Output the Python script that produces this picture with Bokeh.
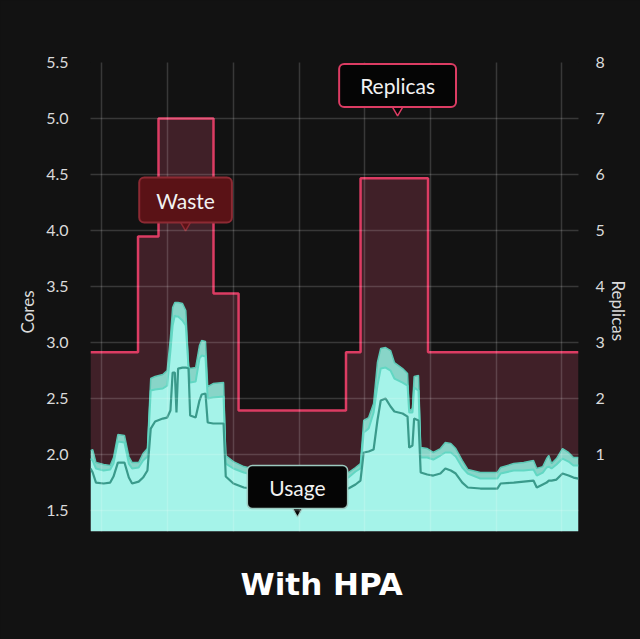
import math
from bokeh.plotting import figure
from bokeh.models import (Range1d, LinearAxis, FixedTicker, Label, Title,
                          PrintfTickFormatter, GlobalInlineStyleSheet)
from bokeh.embed import file_html
from bokeh.resources import INLINE

# ---------------- data (time in minutes) ----------------
usage_t = [0, 2, 5, 12, 18, 21, 25, 31, 35, 38, 44, 48, 52, 55, 59, 66, 70, 73, 75, 77,
           78.5, 80, 84, 87, 89.5, 91, 96, 99.5, 101.5, 105, 107, 112, 121.5, 123.5,
           130.5, 140, 155, 173, 192, 210, 228, 235.5, 242, 246.5, 249.5, 254, 258.5,
           262, 265, 269.5, 274, 277.5, 285, 289.5, 291, 294, 295.5, 299.5, 301.5,
           307.5, 313, 319.5, 324, 329, 333.5, 339.5, 344.5, 356, 371.5, 374.5, 386.5,
           395.5, 404.5, 407.5, 413, 416.5, 418.5, 421, 425.5, 431, 436.5, 441, 445.6]
usage_max = [2.032, 2.041, 1.925, 1.907, 1.898, 1.970, 2.175, 2.167, 1.979, 1.925, 1.925,
             2.006, 2.050, 2.676, 2.694, 2.712, 2.747, 3.042, 3.310, 3.355, 3.355, 3.355,
             3.346, 3.284, 2.783, 2.765, 2.774, 2.971, 3.016, 3.007, 2.604, 2.631, 2.640,
             1.988, 1.934, 1.889, 1.854, 1.836, 1.827, 1.827, 1.836, 1.836, 1.881, 1.916,
             2.301, 2.327, 2.452, 2.819, 2.944, 2.953, 2.926, 2.819, 2.765, 2.721, 2.390,
             2.408, 2.694, 2.703, 2.059, 2.050, 2.015, 2.050, 2.104, 2.095, 2.050, 1.943,
             1.863, 1.836, 1.836, 1.881, 1.916, 1.925, 1.943, 1.872, 1.889, 1.961, 1.988,
             1.916, 1.961, 2.050, 2.015, 1.970, 1.970]
usage_p90 = [1.961, 1.943, 1.872, 1.854, 1.863, 1.916, 2.113, 2.104, 1.916, 1.872, 1.881,
             1.943, 1.979, 2.569, 2.578, 2.587, 2.613, 2.926, 3.150, 3.239, 3.230, 3.230,
             3.194, 3.150, 2.774, 2.640, 2.649, 2.855, 2.881, 2.873, 2.497, 2.506, 2.515,
             1.916, 1.872, 1.836, 1.800, 1.782, 1.773, 1.773, 1.782, 1.791, 1.845, 1.872,
             2.193, 2.229, 2.372, 2.613, 2.765, 2.774, 2.747, 2.676, 2.640, 2.613, 2.372,
             2.372, 2.595, 2.569, 1.970, 1.970, 1.952, 1.988, 2.015, 2.015, 1.979, 1.881,
             1.827, 1.782, 1.782, 1.827, 1.854, 1.854, 1.863, 1.809, 1.836, 1.881, 1.889,
             1.872, 1.907, 1.961, 1.934, 1.898, 1.898]
usage_p50 = [1.872, 1.836, 1.746, 1.738, 1.746, 1.800, 1.925, 1.925, 1.791, 1.738, 1.755,
             1.791, 1.854, 2.229, 2.292, 2.318, 2.327, 2.390, 2.730, 2.730, 2.372, 2.765,
             2.774, 2.774, 2.765, 2.345, 2.327, 2.479, 2.533, 2.542, 2.283, 2.274, 2.274,
             1.800, 1.738, 1.702, 1.684, 1.675, 1.675, 1.666, 1.684, 1.693, 1.729, 1.764,
             2.015, 2.024, 2.041, 2.301, 2.479, 2.497, 2.426, 2.381, 2.363, 2.336, 2.059,
             2.077, 2.318, 2.301, 1.836, 1.818, 1.809, 1.827, 1.872, 1.854, 1.827, 1.746,
             1.702, 1.693, 1.693, 1.738, 1.746, 1.755, 1.764, 1.702, 1.729, 1.746, 1.764,
             1.764, 1.773, 1.827, 1.809, 1.791, 1.782]

replica_t = [0, 43.4, 62.1, 112.3, 135.2, 233.3, 246.6, 308.2, 445.6]
replica_n = [2.82, 4.89, 7.0, 3.87, 1.78, 2.82, 5.93, 2.82, 2.82]

core_ticks = [1.5, 2.0, 2.5, 3.0, 3.5, 4.0, 4.5, 5.0, 5.5]
replica_ticks = [1, 2, 3, 4, 5, 6, 7, 8]
time_grid = [10.5 + 60 * k for k in range(8)]

title_text = "With HPA"
left_label = "Cores"
right_label = "Replicas"

# ---------------- styling ----------------
BG = "#121212"
MAROON = "#402028"
CRIMSON = "#dc3c63"
CYAN = "#a5f3e9"
BAND = "#88d5c8"
TOP_LINE = "#5cc8b5"
MID_LINE = "#62d7c3"
LOW_LINE = "#3a9a8b"
TICK_COLOR = "#dadada"

x0, x1 = 0, 445.6
y0, y1 = 1.309, 5.5
r0, r1 = -0.382, 8

p = figure(width=640, height=639, output_backend="svg", toolbar_location=None,
           x_range=Range1d(x0, x1), y_range=Range1d(y0, y1),
           background_fill_color=BG, border_fill_color=BG,
           min_border_left=90, min_border_right=62, min_border_top=62,
           min_border_bottom=108)
p.outline_line_color = None
p.extra_y_ranges = {"replicas": Range1d(r0, r1)}
p.stylesheets = [GlobalInlineStyleSheet(css="html, body { background-color: #121212; }")]

# waste area (under replicas step)
p.varea_step(x=replica_t, y1=r0, y2=replica_n, step_mode="after",
             y_range_name="replicas", fill_color=MAROON)

# usage areas
p.varea(x=usage_t, y1=y0, y2=usage_p90, fill_color=CYAN)
p.varea(x=usage_t, y1=usage_p90, y2=usage_max, fill_color=BAND)
p.line(usage_t, usage_max, line_color=TOP_LINE, line_width=1.5)
p.line(usage_t, usage_p90, line_color=MID_LINE, line_width=2)
p.line(usage_t, usage_p50, line_color=LOW_LINE, line_width=2.2)

# replicas line
p.step(replica_t, replica_n, mode="after", y_range_name="replicas",
       line_color=CRIMSON, line_width=2.5)

# axes
p.xaxis.visible = False
lax = p.left[0]
lax.ticker = FixedTicker(ticks=core_ticks)
lax.formatter = PrintfTickFormatter(format="%.1f")
rax = LinearAxis(y_range_name="replicas", ticker=FixedTicker(ticks=replica_ticks))
p.add_layout(rax, "right")
for ax in (lax, rax):
    ax.axis_line_color = None
    ax.major_tick_line_color = None
    ax.minor_tick_line_color = None
    ax.major_tick_out = 0
    ax.major_tick_in = 0
    ax.major_label_text_font = "Lato"
    ax.major_label_text_font_size = "16px"
    ax.major_label_text_color = TICK_COLOR
lax.major_label_standoff = 22
rax.major_label_standoff = 17

# grid
p.xgrid.ticker = FixedTicker(ticks=time_grid)
p.ygrid.ticker = FixedTicker(ticks=core_ticks)
for g in (p.xgrid, p.ygrid):
    g.grid_line_color = "white"
    g.grid_line_alpha = 0.16
    g.grid_line_width = 1.5
    g.level = "guide"

# axis titles (as side titles so they sit outside the frame)
p.add_layout(Title(text=left_label, align="left", offset=198, vertical_align="bottom",
                   standoff=12, text_font="Lato", text_font_size="17px",
                   text_font_style="normal", text_color=TICK_COLOR), "left")
p.add_layout(Title(text=right_label, align="left", offset=218, vertical_align="bottom",
                   standoff=0, text_font="Lato", text_font_size="17px",
                   text_font_style="normal", text_color=TICK_COLOR), "right")

# callout pointers
p.scatter(x=[280.4], y=[5.084], marker="inverted_triangle", size=12,
          fill_color="#050505", line_color=CRIMSON, line_width=1.5)
p.scatter(x=[86.8], y=[4.057], marker="inverted_triangle", size=12,
          fill_color="#5a1216", line_color="#8c2a33", line_width=1.5)
p.scatter(x=[189.0], y=[1.501], marker="inverted_triangle", size=12,
          fill_color="#050505", line_color="#9cc9c0", line_width=1.2)

# callout boxes
def callout(x, y, text, fill, border, px, py, bw):
    return Label(x=x, y=y, text=text, text_align="center", text_baseline="middle",
                 text_font="Lato", text_font_size="21px", text_color="#f2f2f2",
                 background_fill_color=fill, border_line_color=border,
                 border_line_width=bw,
                 padding=dict(left=px, right=px, top=py, bottom=py), border_radius=5)

p.add_layout(callout(280.4, 5.294, "Replicas", "#050505", CRIMSON, 21, 9, 2))
p.add_layout(callout(86.8, 4.271, "Waste", "#5a1216", "#8c2a33", 17, 10, 2))
p.add_layout(callout(189.0, 1.706, "Usage", "#050505", "#9cc9c0", 22, 9, 1.5))

# bottom title
p.add_layout(Title(text=title_text, align="left", offset=150, vertical_align="top",
                   standoff=68, text_font="DejaVu Sans", text_font_style="bold",
                   text_font_size="31px", text_color="white"), "below")

open("out.html", "w").write(file_html(p, INLINE))
